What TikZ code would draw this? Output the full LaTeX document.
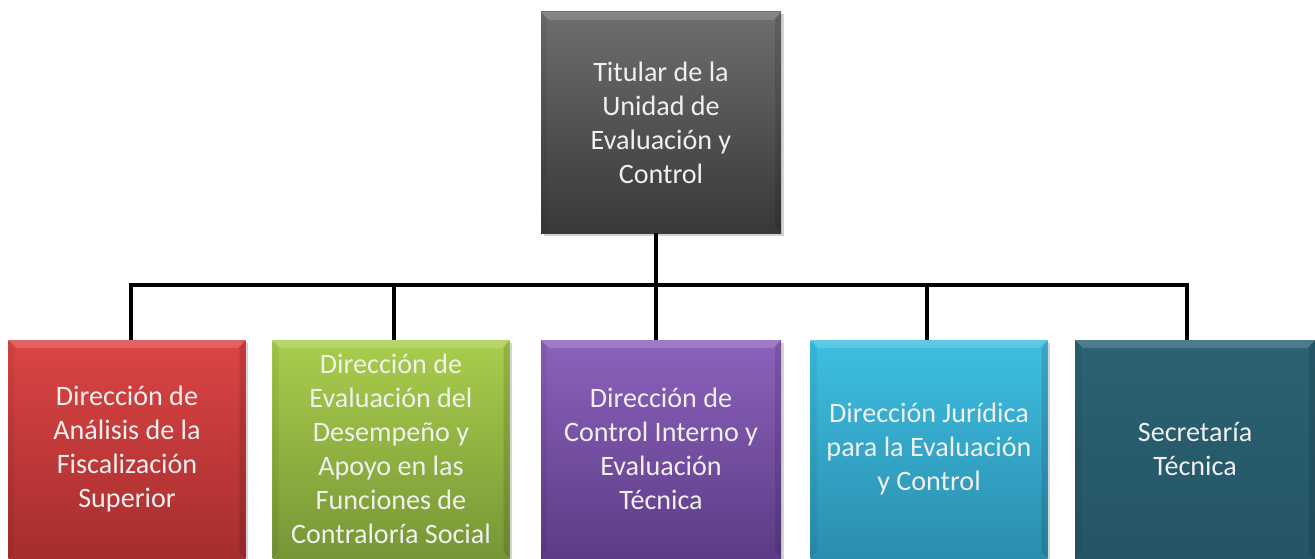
\documentclass[tikz,border=0pt]{standalone}
\usepackage{fontspec}
\setmainfont{Carlito}
\usetikzlibrary{shadows}
\definecolor{grisA}{HTML}{6E6E6E}
\definecolor{grisB}{HTML}{383838}
\definecolor{rojoA}{HTML}{DC4444}
\definecolor{rojoB}{HTML}{A62E2E}
\definecolor{verdeA}{HTML}{A8CE4C}
\definecolor{verdeB}{HTML}{779636}
\definecolor{moradoA}{HTML}{8C62BC}
\definecolor{moradoB}{HTML}{5C3C86}
\definecolor{cianA}{HTML}{3EBFE2}
\definecolor{cianB}{HTML}{2A8DAE}
\definecolor{tealA}{HTML}{2B6273}
\definecolor{tealB}{HTML}{245566}
\tikzset{
  unidad/.style={minimum width=4.74cm, minimum height=4.36cm, align=center,
    text=white!94!black, font=\fontsize{16}{19.4}\selectfont,
    drop shadow={opacity=0.35, shadow xshift=0.05, shadow yshift=-0.05},
    path picture={
      \fill[white, opacity=0.16] (path picture bounding box.north west) -- (path picture bounding box.north east)
        -- ([shift={(-0.16,-0.16)}]path picture bounding box.north east) -- ([shift={(0.16,-0.16)}]path picture bounding box.north west) -- cycle;
      \fill[black, opacity=0.12] (path picture bounding box.north east) -- (path picture bounding box.south east)
        -- ([shift={(-0.12,0.12)}]path picture bounding box.south east) -- ([shift={(-0.12,-0.16)}]path picture bounding box.north east) -- cycle;
      \fill[black, opacity=0.06] (path picture bounding box.north west) -- (path picture bounding box.south west)
        -- ([shift={(0.12,0.12)}]path picture bounding box.south west) -- ([shift={(0.12,-0.16)}]path picture bounding box.north west) -- cycle;
    }},
  linea/.style={line width=2.2pt, black}
}
\begin{document}
\begin{tikzpicture}
  \useasboundingbox (0, 0) rectangle (26.3, 11.16);
  \node[unidad, minimum width=4.8cm, minimum height=4.42cm, top color=grisA, bottom color=grisB] (titular) at (13.22, 8.71) {Titular de la\\Unidad de\\Evaluación y\\Control};
  \node[unidad, top color=rojoA, bottom color=rojoB] (analisis) at (2.54, 2.18) {Dirección de\\Análisis de la\\Fiscalización\\Superior};
  \node[unidad, top color=verdeA, bottom color=verdeB] (desempeno) at (7.82, 2.18) {Dirección de\\Evaluación del\\Desempeño y\\Apoyo en las\\Funciones de\\Contraloría Social};
  \node[unidad, minimum width=4.8cm, top color=moradoA, bottom color=moradoB] (control) at (13.22, 2.18) {Dirección de\\Control Interno y\\Evaluación\\Técnica};
  \node[unidad, top color=cianA, bottom color=cianB] (juridica) at (18.58, 2.18) {Dirección Jurídica\\para la Evaluación\\y Control};
  \node[unidad, minimum width=4.8cm, top color=tealA, bottom color=tealB] (secretaria) at (23.9, 2.18) {Secretaría\\Técnica};
  \coordinate (bus) at (13.12, 5.46);
  \draw[linea] ([xshift=-0.1cm]titular.south) -- (bus);
  \draw[linea] ([xshift=0.08cm]analisis.north) |- (bus) -| ([xshift=-0.16cm]secretaria.north);
  \draw[linea] ([xshift=0.06cm]desempeno.north) -- ([xshift=0.06cm]desempeno.north |- bus);
  \draw[linea] ([xshift=-0.1cm]control.north) -- (bus);
  \draw[linea] ([xshift=-0.04cm]juridica.north) -- ([xshift=-0.04cm]juridica.north |- bus);
\end{tikzpicture}
\end{document}
